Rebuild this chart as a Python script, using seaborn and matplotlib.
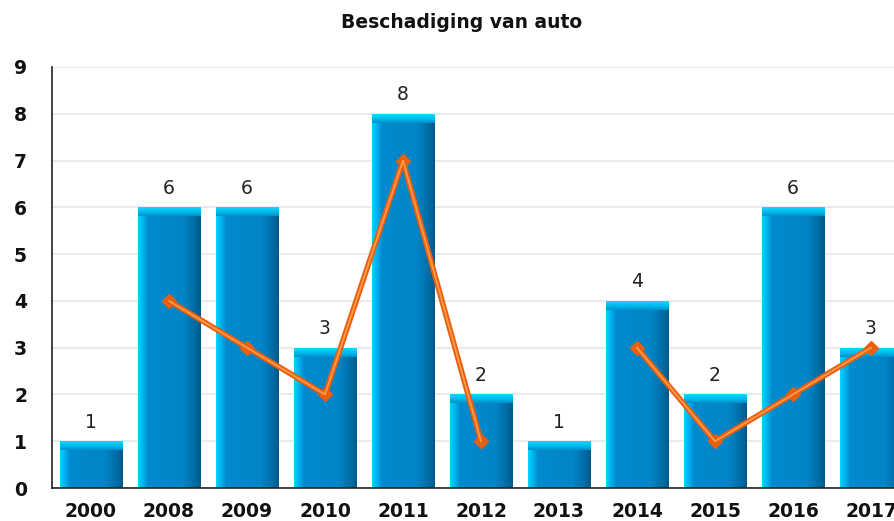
import numpy as np
import pandas as pd
import matplotlib
matplotlib.use('Agg')
import matplotlib.pyplot as plt
import seaborn as sns
from matplotlib.colors import LinearSegmentedColormap

# data
jaren = ['2000', '2008', '2009', '2010', '2011', '2012', '2013', '2014', '2015', '2016', '2017']
aantal = [1, 6, 6, 3, 8, 2, 1, 4, 2, 6, 3]
lijn = [np.nan, 4, 3, 2, 7, 1, np.nan, 3, 1, 2, 3]

df = pd.DataFrame({'jaar': jaren, 'aantal': aantal})

sns.set_style('white')
plt.rcParams['font.family'] = ['DejaVu Sans']

fig = plt.figure(figsize=(8.94, 5.21), dpi=100)
ax = fig.add_axes([52 / 894, 33 / 521, 858 / 894, 421 / 521])

sns.barplot(data=df, x='jaar', y='aantal', color='#0088CC', width=0.8,
            saturation=1, ax=ax, zorder=2)

# gradient over elke balk (3D look)
zijkant = LinearSegmentedColormap.from_list('zij', [
    (0.0, '#00D4FF'), (0.08, '#00B0EE'), (0.16, '#008ACE'),
    (0.70, '#0086C8'), (0.88, '#0070AA'), (1.0, '#005A8A')])
kap = LinearSegmentedColormap.from_list('kap', [
    (0.0, '#0090CC'), (0.45, '#00B8EE'), (1.0, '#10D8FF')])
grad = np.linspace(0, 1, 200).reshape(1, -1)
vgrad = np.linspace(1, 0, 50).reshape(-1, 1)
px_per_unit = 421 / 9
cap = 9 / px_per_unit
for p in list(ax.patches):
    x0, w, h = p.get_x(), p.get_width(), p.get_height()
    ax.imshow(grad, cmap=zijkant, extent=[x0, x0 + w, 0, h - cap],
              aspect='auto', zorder=3, interpolation='bilinear')
    ax.imshow(vgrad, cmap=kap, extent=[x0, x0 + w, h - cap, h],
              aspect='auto', zorder=3, interpolation='bilinear')

ax.bar_label(ax.containers[0], padding=7, fontsize=13.5, color='#222222')

# oranje lijn met ruitjes
xs = np.arange(len(jaren))
ax.plot(xs, lijn, color='#E8600F', lw=4, marker='D', markersize=7.5,
        markeredgecolor='#E8600F', zorder=5, solid_capstyle='round')
ax.plot(xs, lijn, color='#FF9A4A', lw=1.3, zorder=6)

ax.set_xlim(-0.5, len(jaren) - 0.5)
ax.set_ylim(0, 9)
ax.set_yticks(range(0, 10))
ax.set_xticks(np.arange(len(jaren) + 1) - 0.5, minor=True)
ax.set_xticks(xs)
ax.set_xticklabels(jaren)
ax.tick_params(axis='x', which='major', length=0, pad=10, labelsize=13.5)
ax.tick_params(axis='x', which='minor', length=6, width=1.2, color='#222222', direction='out')
ax.tick_params(axis='y', length=9, width=1.2, color='#222222', pad=9, labelsize=13.5, direction='out')
for lab in ax.get_xticklabels() + ax.get_yticklabels():
    lab.set_fontweight('bold')
    lab.set_color('#111111')

ax.grid(axis='y', color='#E6E6E6', lw=1.2, zorder=0)
ax.set_axisbelow(True)
for s in ['top', 'right']:
    ax.spines[s].set_visible(False)
for s in ['left', 'bottom']:
    ax.spines[s].set_color('#222222')
    ax.spines[s].set_linewidth(1.2)
    ax.spines[s].set_zorder(7)
ax.set_xlabel('')
ax.set_ylabel('')

fig.text(462 / 894, 1 - 23 / 521, 'Beschadiging van auto', ha='center', va='center',
         fontsize=13.5, fontweight='bold', color='#111111')

fig.savefig('out.png', dpi=100)
